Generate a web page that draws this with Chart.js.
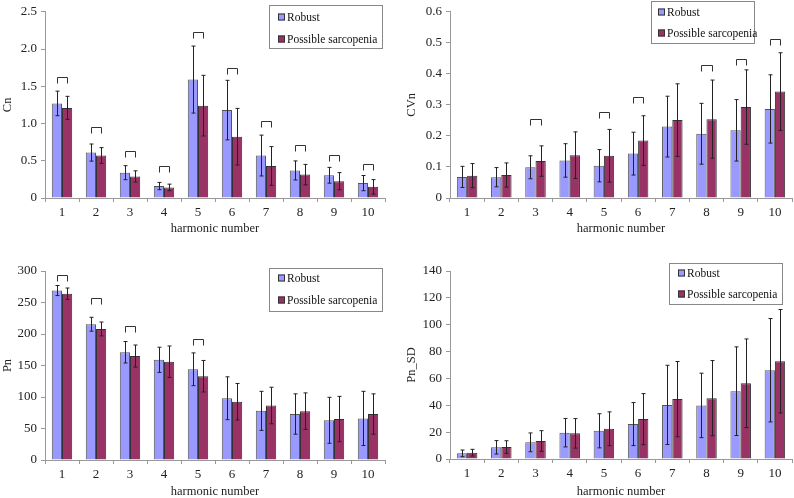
<!DOCTYPE html>
<html>
<head>
<meta charset="utf-8">
<script src="https://cdn.jsdelivr.net/npm/chart.js@4.4.1/dist/chart.umd.min.js"></script>
<style>
  html, body { margin: 0; padding: 0; background: #fff; overflow: hidden; }
  canvas { position: absolute; }
</style>
</head>
<body>
<canvas id="cn" width="397" height="245" style="left:0;top:0"></canvas>
<canvas id="cvn" width="394" height="245" style="left:400px;top:0"></canvas>
<canvas id="pn" width="397" height="255" style="left:0;top:250px"></canvas>
<canvas id="pnsd" width="394" height="255" style="left:400px;top:250px"></canvas>
<script>
// harmonic numbers on the x axis
var harmonics = ['1', '2', '3', '4', '5', '6', '7', '8', '9', '10'];
var groupNames = ['Robust', 'Possible sarcopenia'];

// Cn
var cnRobust = [1.27, 0.61, 0.34, 0.16, 1.59, 1.18, 0.57, 0.37, 0.305, 0.20];
var cnRobustSD = [0.165, 0.115, 0.094, 0.049, 0.45, 0.40, 0.274, 0.128, 0.106, 0.102];
var cnPossible = [1.21, 0.57, 0.29, 0.142, 1.24, 0.823, 0.43, 0.314, 0.226, 0.15];
var cnPossibleSD = [0.155, 0.106, 0.075, 0.044, 0.407, 0.38, 0.26, 0.137, 0.115, 0.097];
var cnBrackets = [1.62, 0.956, 0.637, 0.425, 2.226, 1.752, 1.031, 0.712, 0.58, 0.46];

// CVn
var cvnRobust = [0.068, 0.067, 0.099, 0.121, 0.104, 0.143, 0.230, 0.207, 0.218, 0.287];
var cvnRobustSD = [0.034, 0.031, 0.037, 0.054, 0.052, 0.069, 0.098, 0.098, 0.099, 0.11];
var cvnPossible = [0.072, 0.074, 0.119, 0.138, 0.136, 0.185, 0.251, 0.254, 0.293, 0.343];
var cvnPossibleSD = [0.039, 0.039, 0.049, 0.075, 0.085, 0.08, 0.117, 0.126, 0.12, 0.125];
var cvnBrackets = [null, null, 0.253, null, 0.278, 0.327, null, 0.429, 0.448, 0.512];

// Pn
var pnRobust = [269, 215.5, 171, 159, 144, 98, 78, 73, 63, 66];
var pnRobustSD = [8, 11, 17, 20, 26, 34, 31, 32, 36.5, 43];
var pnPossible = [264, 208, 165, 156, 133, 92.5, 86.5, 77.5, 65, 73];
var pnPossibleSD = [9, 11, 17.5, 25, 25, 29, 29, 29, 36, 32];
var pnBrackets = [293, 256.5, 212.5, null, 192, null, null, null, null, null];

// Pn_SD
var pnsdRobust = [4.2, 8.7, 12.4, 19.6, 21.0, 26, 40.3, 39.9, 50.5, 66.1];
var pnsdRobustSD = [2.5, 5, 7, 10.6, 12.7, 16, 29.5, 24, 33, 38.5];
var pnsdPossible = [4.7, 8.9, 13.4, 19.1, 22.5, 29.7, 44.6, 45.3, 56.4, 72.8];
var pnsdPossibleSD = [2.5, 4.7, 7.7, 11, 12.6, 19, 28, 28, 33, 38.5];
var pnsdBrackets = [null, null, null, null, null, null, null, null, null, null];

var serif = 'Liberation Serif, Times New Roman, serif';
var robustColor = '#9999ff';
var possibleColor = '#993366';

// error bars (mean +/- SD) on top of every bar
var errorBarPlugin = {
    id: 'errorBars',
    afterDatasetsDraw: function (chart) {
        var ctx = chart.ctx;
        var yScale = chart.scales.y;
        ctx.save();
        ctx.strokeStyle = '#222';
        ctx.lineWidth = 1;
        chart.data.datasets.forEach(function (ds, i) {
            var meta = chart.getDatasetMeta(i);
            meta.data.forEach(function (bar, j) {
                var x = Math.round(bar.x) + 0.5;
                var top = yScale.getPixelForValue(ds.data[j] + ds.sd[j]);
                var bottom = yScale.getPixelForValue(Math.max(ds.data[j] - ds.sd[j], 0));
                ctx.beginPath();
                ctx.moveTo(x, top);
                ctx.lineTo(x, bottom);
                ctx.moveTo(x - 2, top);
                ctx.lineTo(x + 2, top);
                ctx.moveTo(x - 2, bottom);
                ctx.lineTo(x + 2, bottom);
                ctx.stroke();
            });
        });
        ctx.restore();
    }
};

// significance brackets between the two bars of a harmonic
var bracketPlugin = {
    id: 'sigBrackets',
    afterDatasetsDraw: function (chart, args, opts) {
        var heights = opts.heights || [];
        var ctx = chart.ctx;
        var yScale = chart.scales.y;
        var a = chart.getDatasetMeta(0).data;
        var b = chart.getDatasetMeta(1).data;
        ctx.save();
        ctx.strokeStyle = '#333';
        ctx.lineWidth = 1;
        heights.forEach(function (h, j) {
            if (h === null) return;
            var y = Math.round(yScale.getPixelForValue(h)) + 0.5;
            var x1 = Math.round(a[j].x) + 0.5;
            var x2 = Math.round(b[j].x) + 0.5;
            ctx.beginPath();
            ctx.moveTo(x1, y + 6);
            ctx.lineTo(x1, y);
            ctx.lineTo(x2, y);
            ctx.lineTo(x2, y + 6);
            ctx.stroke();
        });
        ctx.restore();
    }
};

// boxed legend like the original figure
var boxLegendPlugin = {
    id: 'boxLegend',
    afterDraw: function (chart, args, opts) {
        var ctx = chart.ctx;
        ctx.save();
        ctx.strokeStyle = '#888';
        ctx.lineWidth = 1;
        ctx.strokeRect(opts.x + 0.5, opts.y + 0.5, opts.w, opts.h);
        ctx.font = '11.5px ' + serif;
        ctx.textBaseline = 'middle';
        chart.data.datasets.forEach(function (ds, i) {
            var ry = opts.rows[i];
            ctx.fillStyle = ds.backgroundColor;
            ctx.fillRect(opts.sx, ry - 3.5, 7, 7);
            ctx.strokeStyle = '#333';
            ctx.strokeRect(opts.sx + 0.5, ry - 3.5 + 0.5, 6, 6);
            ctx.fillStyle = '#111';
            ctx.fillText(ds.label, opts.sx + 9, ry + 0.5);
        });
        ctx.restore();
    }
};

function makeChart(id, yTitle, yMax, yStep, robust, robustSD, possible, possibleSD, brackets, lay) {
    var ctx = document.getElementById(id).getContext('2d');
    return new Chart(ctx, {
        type: 'bar',
        data: {
            labels: harmonics,
            datasets: [{
                label: groupNames[0],
                data: robust,
                sd: robustSD,
                backgroundColor: robustColor,
                borderColor: '#555',
                borderWidth: 1,
                categoryPercentage: 0.6,
                barPercentage: 1.0
            }, {
                label: groupNames[1],
                data: possible,
                sd: possibleSD,
                backgroundColor: possibleColor,
                borderColor: '#333',
                borderWidth: 1,
                categoryPercentage: 0.6,
                barPercentage: 1.0
            }]
        },
        options: {
            responsive: false,
            animation: false,
            layout: { padding: { top: lay.top, right: lay.right, left: 0, bottom: 0 } },
            plugins: {
                legend: { display: false },
                tooltip: { enabled: false },
                sigBrackets: { heights: brackets },
                boxLegend: lay.legend
            },
            scales: {
                x: {
                    grid: { display: true, drawOnChartArea: false, offset: true, color: '#999', tickLength: 4 },
                    border: { color: '#999' },
                    ticks: { color: '#222', font: { family: serif, size: 13 }, padding: 3, maxRotation: 0 },
                    title: { display: true, text: 'harmonic number', color: '#222', font: { family: serif, size: 12.5 }, padding: { top: 0, bottom: lay.xTitlePad } },
                    afterFit: function (s) { s.height = lay.xHeight; }
                },
                y: {
                    min: 0,
                    max: yMax,
                    ticks: { stepSize: yStep, color: '#222', font: { family: serif, size: 13 }, padding: 4 },
                    grid: { display: true, drawOnChartArea: false, color: '#999', tickLength: 4 },
                    border: { color: '#999' },
                    title: { display: true, text: yTitle, color: '#222', font: { family: serif, size: 12.5 }, padding: { top: lay.yTitlePad, bottom: 0 } },
                    afterFit: function (s) { s.width = lay.yWidth; }
                }
            }
        },
        plugins: [errorBarPlugin, bracketPlugin, boxLegendPlugin]
    });
}

makeChart('cn', 'Cn', 2.5, 0.5, cnRobust, cnRobustSD, cnPossible, cnPossibleSD, cnBrackets, {
    top: 10, right: 12, yWidth: 45, xHeight: 47, xTitlePad: 8.5, yTitlePad: 0.5,
    legend: { x: 269, y: 5, w: 113, h: 43, sx: 278, rows: [17, 39] }
});
makeChart('cvn', 'CVn', 0.6, 0.1, cvnRobust, cvnRobustSD, cvnPossible, cvnPossibleSD, cvnBrackets, {
    top: 10, right: 2, yWidth: 50, xHeight: 47, xTitlePad: 8.5, yTitlePad: 4.5,
    legend: { x: 251, y: 1, w: 103, h: 42, sx: 258, rows: [12, 33] }
});
makeChart('pn', 'Pn', 300, 50, pnRobust, pnRobustSD, pnPossible, pnPossibleSD, pnBrackets, {
    top: 21, right: 12, yWidth: 45, xHeight: 45, xTitlePad: 6, yTitlePad: 0.5,
    legend: { x: 269, y: 18, w: 113, h: 43, sx: 278, rows: [28, 50] }
});
makeChart('pnsd', 'Pn_SD', 140, 20, pnsdRobust, pnsdRobustSD, pnsdPossible, pnsdPossibleSD, pnsdBrackets, {
    top: 21, right: 2, yWidth: 50, xHeight: 46, xTitlePad: 6, yTitlePad: 4.5,
    legend: { x: 269, y: 13, w: 113, h: 41, sx: 278, rows: [23, 44] }
});
</script>
</body>
</html>
